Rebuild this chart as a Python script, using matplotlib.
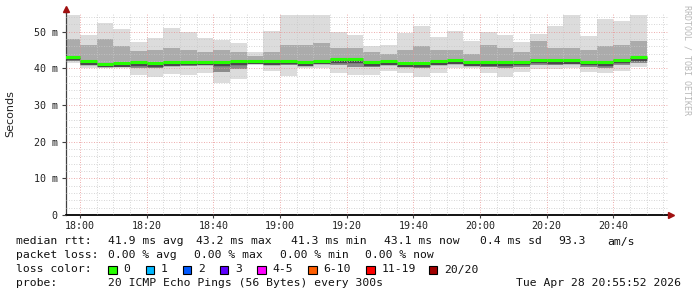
import matplotlib
matplotlib.use('Agg')
import matplotlib.pyplot as plt
import numpy as np
import pandas as pd
from matplotlib.patches import Rectangle

# ---------------- data ----------------
interval_end = pd.date_range('2026-04-28 18:00', '2026-04-28 20:50', freq='5min')

ping_max = [54.5, 49.2, 52.3, 50.6, 47.2, 48.2, 50.9, 50.0, 48.2, 47.7, 47.0, 44.4,
            50.3, 54.5, 54.5, 54.5, 49.8, 49.1, 46.1, 46.4, 49.7, 51.5, 48.5, 50.3,
            47.5, 50.0, 49.1, 47.2, 49.4, 51.5, 54.5, 48.8, 53.5, 52.9, 54.5]
ping_q3 = [48.0, 46.5, 48.0, 46.0, 44.8, 45.0, 45.5, 45.0, 44.5, 45.0, 44.5, 43.5,
           44.5, 46.5, 46.5, 47.0, 45.5, 45.5, 44.5, 44.0, 45.0, 46.0, 45.0, 45.0,
           44.0, 46.5, 45.5, 44.5, 47.5, 45.5, 45.5, 45.0, 46.0, 46.5, 47.5]
ping_median = [43.2, 41.9, 41.3, 41.5, 41.7, 41.5, 41.6, 41.8, 41.8, 41.6, 41.9, 42.1,
               41.9, 42.1, 41.7, 42.1, 42.5, 42.5, 41.7, 41.9, 41.4, 41.4, 41.9, 42.2,
               41.7, 41.6, 41.6, 41.8, 42.4, 42.3, 42.3, 41.8, 41.6, 42.4, 43.1]
ping_q1 = [42.0, 41.0, 40.8, 41.0, 40.2, 40.0, 40.8, 40.7, 41.0, 39.0, 39.8, 41.8,
           41.0, 41.0, 41.3, 41.3, 40.8, 40.5, 40.3, 40.8, 40.3, 40.0, 40.8, 41.3,
           41.0, 40.5, 40.0, 40.5, 41.0, 41.0, 41.3, 40.5, 40.2, 40.8, 41.5]
ping_min = [41.4, 40.0, 40.0, 40.3, 38.2, 37.7, 38.5, 38.2, 38.6, 35.9, 37.1, 41.4,
            39.4, 37.9, 40.0, 40.0, 38.6, 38.2, 38.2, 39.4, 38.8, 37.7, 38.8, 40.0,
            40.0, 38.6, 37.7, 39.1, 39.7, 39.7, 40.0, 39.1, 38.6, 39.4, 40.4]

time_labels = ['18:00', '18:20', '18:40', '19:00', '19:20', '19:40', '20:00', '20:20', '20:40']
y_tick_values = [0, 10, 20, 30, 40, 50]
y_tick_labels = ['0', '10 m', '20 m', '30 m', '40 m', '50 m']

loss_labels = ['0', '1', '2', '3', '4-5', '6-10', '11-19', '20/20']
loss_colors = ['#26ff00', '#00b8ff', '#0059ff', '#5e00ff', '#ff00ff', '#ff5e00', '#ff0000', '#a00000']

stats_row1 = ['median rtt:', '41.9 ms avg', '43.2 ms max', '41.3 ms min', '43.1 ms now',
              '0.4 ms sd', '93.3', 'am/s']
stats_row2 = ['packet loss:', '0.00 % avg', '0.00 % max', '0.00 % min', '0.00 % now']
probe_text = ['probe:', '20 ICMP Echo Pings (56 Bytes) every 300s']
stamp = 'Tue Apr 28 20:55:52 2026'

# ---------------- figure ----------------
W, H = 697, 297
fig = plt.figure(figsize=(W / 100, H / 100), dpi=100)
fig.patch.set_facecolor('white')
ax = fig.add_axes([66 / W, 82 / H, (669 - 66) / W, (215 - 13) / H])

t0 = interval_end[0]
t_end = np.array([(t - t0).total_seconds() / 60 for t in interval_end])
t_start = t_end - 5

mx = np.array(ping_max); mn = np.array(ping_min)
q3 = np.array(ping_q3); q1 = np.array(ping_q1); md = np.array(ping_median)

ax.bar(t_start, mx - mn, bottom=mn, width=5, align='edge', color='#dcdcdc', lw=0, zorder=1)
ax.bar(t_start, q3 - md, bottom=md, width=5, align='edge', color='#ababab', lw=0, zorder=1.1)
ax.bar(t_start, md - q1, bottom=q1, width=5, align='edge', color='#8c8c8c', lw=0, zorder=1.1)
ax.hlines(md - 0.45, t_start, t_end, color='#4a4a4a', lw=2.5, zorder=1.2)
ax.hlines(md, t_start, t_end, color='#26ff00', lw=2.2, zorder=3)

ax.set_xlim(-4.2, 176.7)
ax.set_ylim(0, 55.1)

major_x = np.arange(len(time_labels)) * 20
ax.set_xticks(major_x)
ax.set_xticklabels(time_labels)
ax.set_xticks(np.arange(0, 180, 5), minor=True)
ax.set_yticks(y_tick_values)
ax.set_yticklabels(y_tick_labels)
ax.set_yticks(np.arange(0, 56, 2), minor=True)

ax.set_axisbelow(False)
ax.grid(which='minor', color='#c8c8c8', linestyle=(0, (1, 2)), lw=0.6)
ax.grid(which='major', color='#e89090', linestyle=(0, (1, 2)), lw=0.6)

mono = 'DejaVu Sans Mono'
ax.tick_params(which='minor', length=0)
ax.tick_params(axis='y', which='major', length=3, width=0.8, color='#404040', pad=3,
               labelsize=7.2, labelcolor='#222222')
ax.tick_params(axis='x', which='major', length=2, width=0.8, color='#404040', pad=2,
               labelsize=7.2, labelcolor='#222222')
for lab in ax.get_xticklabels() + ax.get_yticklabels():
    lab.set_family(mono)

for s in ['top', 'right']:
    ax.spines[s].set_visible(False)
ax.spines['left'].set_color('#404040')
ax.spines['left'].set_linewidth(0.9)
ax.spines['bottom'].set_color('black')
ax.spines['bottom'].set_linewidth(1.3)

# arrows
ax.plot([0, 0], [1.0, 1.02], color='#404040', lw=0.9, transform=ax.transAxes, clip_on=False, zorder=5)
ax.plot([0], [1.022], marker='^', color='#a01010', ms=4, transform=ax.transAxes, clip_on=False, zorder=5)
ax.plot([1.003], [0], marker='>', color='#a01010', ms=4, transform=ax.transAxes, clip_on=False, zorder=5)

# y label
fig.text(10 / W, 1 - 114 / H, 'Seconds', rotation=90, ha='center', va='center',
         fontsize=8, family='DejaVu Sans', color='#222222')

# watermark
fig.text(687 / W, 1 - 60 / H, 'RRDTOOL / TOBI OETIKER', rotation=270, ha='center', va='center',
         fontsize=6, family=mono, color='#b8b8b8')

# legend / stats text
fs = 8.2
def put(x, y, s, ha='left'):
    fig.text(x / W, 1 - y / H, s, ha=ha, va='center', fontsize=fs, family=mono, color='#111111')

row1_x = [16, 107.7, 196, 291, 384, 480, 558.5, 607.5]
for x, s in zip(row1_x, stats_row1):
    put(x, 241.5, s)
row2_x = [16, 107.7, 193.6, 279.5, 365.4]
for x, s in zip(row2_x, stats_row2):
    put(x, 255.5, s)
put(16, 269.5, 'loss color:')
sq_x = [108, 145.5, 182.5, 220, 257, 308, 366, 428.6]
for x, c, lab in zip(sq_x, loss_colors, loss_labels):
    fig.patches.append(Rectangle((x / W, 1 - 274 / H), 8.5 / W, 8.5 / H, transform=fig.transFigure,
                                 facecolor=c, edgecolor='black', lw=0.8))
    put(x + 15.5, 269.5, lab)
put(16, 283.5, probe_text[0])
put(107.7, 283.5, probe_text[1])
put(681, 283.5, stamp, ha='right')

fig.savefig('out.png', dpi=100, facecolor='white')
